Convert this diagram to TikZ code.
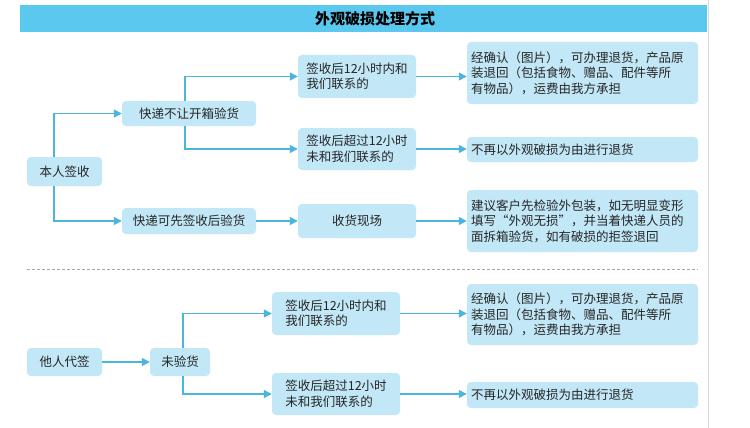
\documentclass[tikz,border=0pt]{standalone}
\usepackage{fontspec}
\setmainfont{Noto Sans CJK SC}
\usetikzlibrary{arrows.meta}
\definecolor{bar}{HTML}{5BC8F0}
\definecolor{bx}{HTML}{C2E7F6}
\definecolor{ln}{HTML}{4AB6DE}
\tikzset{
 b/.style={fill=bx,rounded corners=4pt,inner sep=0pt,font=\fontsize{12.5}{15.5}\selectfont,text=black!85},
 ar/.style={draw=ln,line width=1.3pt,-{Triangle[width=8pt,length=8pt]}},
}
\begin{document}
\begin{tikzpicture}[x=1pt,y=-1pt]
\useasboundingbox (0,0) rectangle (750,428);
\fill[white] (0,0) rectangle (750,428);
\draw[black!15] (708,0) -- (708,428);
\fill[bar] (20,5) rectangle (707,32);
\node[font=\bfseries\fontsize{15}{17}\selectfont] (title) at (375,18.5) {外观破损处理方式};
\node[b,minimum width=75,minimum height=29] (me) at (64.5,171.5) {本人签收};
\node[b,minimum width=134,minimum height=25] (k1) at (189,113.5) {快递不让开箱验货};
\node[b,minimum width=134,minimum height=26] (k2) at (189,221) {快递可先签收后验货};
\node[b,minimum width=118,minimum height=43,align=left] (a1) at (357,76.5) {签收后12小时内和\\我们联系的};
\node[b,minimum width=118,minimum height=42,align=left] (a2) at (357,149) {签收后超过12小时\\未和我们联系的};
\node[b,minimum width=118,minimum height=34] (a3) at (357,221) {收货现场};
\node[b,minimum width=231,minimum height=62,align=left,text width=223] (r1) at (582.5,73) {经确认（图片），可办理退货，产品原\\装退回（包括食物、赠品、配件等所\\有物品），运费由我方承担};
\node[b,minimum width=231,minimum height=25,align=left,text width=223] (r2) at (582.5,149.5) {不再以外观破损为由进行退货};
\node[b,minimum width=231,minimum height=62,align=left,text width=223] (r3) at (582.5,221) {建议客户先检验外包装，如无明显变形\\填写“外观无损”，并当着快递人员的\\面拆箱验货，如有破损的拒签退回};
\draw[black!35,densely dashed] (27,269) -- (698,269);
\node[b,minimum width=75,minimum height=28] (he) at (64.5,362) {他人代签};
\node[b,minimum width=60,minimum height=28] (wy) at (180,362) {未验货};
\node[b,minimum width=128,minimum height=43,align=left] (c1) at (336,313.5) {签收后12小时内和\\我们联系的};
\node[b,minimum width=128,minimum height=42,align=left] (c2) at (336,394) {签收后超过12小时\\未和我们联系的};
\node[b,minimum width=231,minimum height=61,align=left,text width=223] (s1) at (582.5,314.5) {经确认（图片），可办理退货，产品原\\装退回（包括食物、赠品、配件等所\\有物品），运费由我方承担};
\node[b,minimum width=231,minimum height=26,align=left,text width=223] (s2) at (582.5,395) {不再以外观破损为由进行退货};
\draw[ar] (me.north -| 54,0) |- (k1.west);
\draw[ar] (me.south -| 54,0) |- (k2.west);
\draw[ar] (k1.north -| 185,0) |- (a1.west);
\draw[ar] (k1.south -| 185,0) |- (a2.west);
\draw[ar] (a1.east) -- (a1.east -| r1.west);
\draw[ar] (a2.east) -- (a2.east -| r2.west);
\draw[ar] (k2) -- (a3);
\draw[ar] (a3) -- (r3);
\draw[ar] (he) -- (wy);
\draw[ar] (wy.north -| 183,0) |- (c1.west);
\draw[ar] (wy.south -| 183,0) |- (c2.west);
\draw[ar] (c1.east) -- (c1.east -| s1.west);
\draw[ar] (c2.east) -- (c2.east -| s2.west);
\end{tikzpicture}
\end{document}
